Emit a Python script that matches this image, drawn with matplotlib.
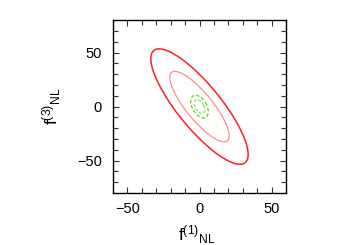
import numpy as np
import matplotlib
matplotlib.use('Agg')
import matplotlib.pyplot as plt
from matplotlib.patches import Ellipse

plt.rcParams['font.family'] = ['Liberation Sans', 'DejaVu Sans']
plt.rcParams['mathtext.fontset'] = 'custom'
plt.rcParams['mathtext.rm'] = 'Liberation Sans'

# Fisher contours: (sigma_x, sigma_y, correlation), center at origin
red_sig = (13.6, 21.5, -0.83)
green_sig = (2.45, 4.2, -0.45)
# delta chi^2 levels for 68% / 95% (2 params)
levels = [2.30, 6.17]

def ellipse_params(sx, sy, rho, dchi2):
    cov = np.array([[sx**2, rho*sx*sy], [rho*sx*sy, sy**2]])
    vals, vecs = np.linalg.eigh(cov)
    ang = np.degrees(np.arctan2(vecs[1, 1], vecs[0, 1]))
    w = 2*np.sqrt(dchi2*vals[1])
    h = 2*np.sqrt(dchi2*vals[0])
    return w, h, ang

fig = plt.figure(figsize=(3.5, 2.45), dpi=100)
ax = fig.add_axes([0.323, 0.212, 0.494, 0.706])

styles = [
    (red_sig, levels[1], dict(color='#ff2020', lw=1.1, ls='-')),
    (red_sig, levels[0], dict(color='#ff8c8c', lw=0.9, ls='-')),
    (green_sig, levels[1], dict(color='#66dd22', lw=1.0, ls=(0, (2.5, 1.5)))),
    (green_sig, levels[0], dict(color='#88e050', lw=0.9, ls=(0, (2.5, 1.5)))),
]
for sig, lv, st in styles:
    w, h, ang = ellipse_params(*sig, lv)
    ax.add_patch(Ellipse((0, 0), w, h, angle=ang, fill=False,
                         edgecolor=st['color'], lw=st['lw'], ls=st['ls']))

ax.set_xlim(-60, 60)
ax.set_ylim(-80, 80)
ax.set_xticks([-50, 0, 50])
ax.set_yticks([-50, 0, 50])
ax.set_xticks(np.arange(-50, 60, 10), minor=True)
ax.set_yticks(np.arange(-70, 80, 10), minor=True)
ax.tick_params(which='both', direction='in', top=True, right=True,
               labelsize=10.5, width=0.8, color='#333333')
ax.tick_params(which='major', length=4.5)
ax.tick_params(which='minor', length=3.5)
ax.tick_params(axis='x', pad=6.5)
ax.tick_params(axis='y', pad=8)
for sp in ax.spines.values():
    sp.set_linewidth(1.0)

ax.set_xlabel(r'$\mathregular{f^{(1)}{}_{NL}}$', fontsize=12.5)
ax.set_ylabel(r'$\mathregular{f^{(3)}{}_{NL}}$', fontsize=12.5)
ax.xaxis.set_label_coords(0.486, -0.175)
ax.yaxis.set_label_coords(-0.289, 0.503)

fig.savefig('out.png', dpi=100)
